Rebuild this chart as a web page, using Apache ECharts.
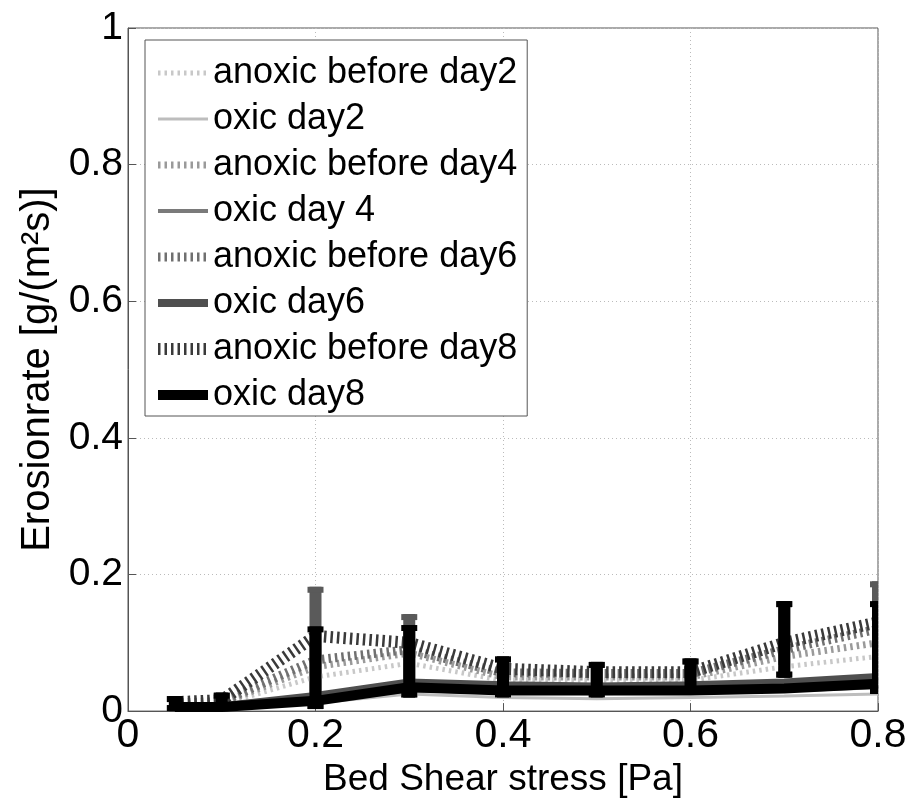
<!DOCTYPE html>
<html>
<head>
<meta charset="utf-8">
<script src="https://cdn.jsdelivr.net/npm/echarts@6/dist/echarts.min.js"></script>
<style>
  html, body { margin: 0; padding: 0; background: #fff; }
  #chart { width: 921px; height: 803px; }
</style>
</head>
<body>
<div id="chart"></div>
<script>
// bed shear stress [Pa]
var stress = [0.05, 0.1, 0.2, 0.3, 0.4, 0.5, 0.6, 0.7, 0.8];

// erosion rate per run [g/(m2 s)]
var anoxicDay2 = [0.008, 0.01, 0.05, 0.07, 0.045, 0.045, 0.045, 0.065, 0.08];
var oxicDay2   = [0.004, 0.004, 0.012, 0.025, 0.02, 0.018, 0.02, 0.022, 0.025];
var anoxicDay4 = [0.01, 0.012, 0.065, 0.085, 0.05, 0.05, 0.05, 0.08, 0.1];
var oxicDay4   = [0.005, 0.005, 0.015, 0.03, 0.028, 0.026, 0.028, 0.03, 0.035];
var anoxicDay6 = [0.012, 0.014, 0.075, 0.09, 0.056, 0.055, 0.055, 0.09, 0.12];
var oxicDay6   = [0.006, 0.007, 0.022, 0.042, 0.038, 0.036, 0.038, 0.042, 0.05];
var anoxicDay8 = [0.013, 0.016, 0.11, 0.1, 0.062, 0.057, 0.057, 0.1, 0.13];
var oxicDay8   = [0.006, 0.006, 0.015, 0.035, 0.03, 0.03, 0.03, 0.033, 0.04];

// error bars (low / high)
var errLow      = [0, 0, 0.003, 0.02, 0.02, 0.02, 0.025, 0.049, 0.025];
var errHighDark = [0.022, 0.027, 0.124, 0.126, 0.08, 0.072, 0.077, 0.161, 0.161];
var errHighGray = [0.022, 0.027, 0.182, 0.142, 0.08, 0.072, 0.077, 0.161, 0.19];

var font = 'Liberation Sans, Arial, sans-serif';

function pairs(ys) {
  var out = [];
  for (var i = 0; i < stress.length; i++) out.push([stress[i], ys[i]]);
  return out;
}

function lineSeries(name, ys, color, width, dashed) {
  return {
    name: name,
    type: 'line',
    data: pairs(ys),
    symbol: 'none',
    lineStyle: {
      color: color,
      width: width,
      type: dashed ? [2.5, 4] : 'solid',
      cap: 'butt'
    },
    itemStyle: { color: color },
    animation: false
  };
}

function errSeries(highs, color, z) {
  var d = [];
  for (var i = 0; i < stress.length; i++) d.push([stress[i], errLow[i], highs[i]]);
  return {
    type: 'custom',
    z: z,
    data: d,
    animation: false,
    renderItem: function (params, api) {
      var lo = api.coord([api.value(0), api.value(1)]);
      var hi = api.coord([api.value(0), api.value(2)]);
      var cs = params.coordSys;
      var clip = { x: cs.x, y: cs.y, width: cs.width, height: cs.height };
      var rects = [
        { x: lo[0] - 6, y: hi[1], width: 12, height: lo[1] - hi[1] },
        { x: lo[0] - 8, y: hi[1], width: 16, height: 6 },
        { x: lo[0] - 8, y: lo[1] - 6, width: 16, height: 6 }
      ];
      var children = [];
      rects.forEach(function (r) {
        var c = echarts.graphic.clipRectByRect(r, clip);
        if (c) children.push({ type: 'rect', shape: c, style: { fill: color } });
      });
      return { type: 'group', children: children };
    }
  };
}

var names = ['anoxic before day2', 'oxic day2', 'anoxic before day4', 'oxic day 4',
             'anoxic before day6', 'oxic day6', 'anoxic before day8', 'oxic day8'];

var chart = echarts.init(document.getElementById('chart'));
chart.setOption({
  backgroundColor: '#fff',
  animation: false,
  grid: {
    left: 128, right: 43, top: 28, bottom: 86,
    show: true, borderColor: '#555', borderWidth: 1, backgroundColor: '#fff'
  },
  legend: {
    data: names,
    orient: 'vertical',
    left: 145,
    top: 40,
    padding: [15, 10, 3, 7],
    itemWidth: 50,
    itemHeight: 30,
    itemGap: 10,
    backgroundColor: '#fff',
    borderColor: '#555',
    borderWidth: 1,
    borderRadius: 0,
    itemStyle: { opacity: 0 },
    lineStyle: { width: 'inherit' },
    textStyle: { fontFamily: font, fontSize: 36, color: '#000' }
  },
  xAxis: {
    type: 'value',
    min: 0, max: 0.8, interval: 0.2,
    name: 'Bed Shear stress [Pa]',
    nameLocation: 'middle',
    nameGap: 49,
    nameTextStyle: { fontFamily: font, fontSize: 37, color: '#000' },
    axisLine: { show: true, lineStyle: { color: '#555' } },
    axisTick: { show: true, inside: true, length: 8, lineStyle: { color: '#555' } },
    axisLabel: { fontFamily: font, fontSize: 41, color: '#000', margin: 4 },
    splitLine: { show: true, lineStyle: { color: '#bbb', type: [1, 3] } }
  },
  yAxis: {
    type: 'value',
    min: 0, max: 1, interval: 0.2,
    name: 'Erosionrate [g/(m²s)]',
    nameLocation: 'middle',
    nameGap: 58,
    nameTextStyle: { fontFamily: font, fontSize: 40, color: '#000' },
    axisLine: { show: true, lineStyle: { color: '#555' } },
    axisTick: { show: true, inside: true, length: 8, lineStyle: { color: '#555' } },
    axisLabel: { fontFamily: font, fontSize: 39, color: '#000', margin: 5 },
    splitLine: { show: true, lineStyle: { color: '#bbb', type: [1, 3] } }
  },
  series: [
    lineSeries(names[0], anoxicDay2, '#c8c8c8', 5, true),
    lineSeries(names[1], oxicDay2, '#bdbdbd', 3, false),
    lineSeries(names[2], anoxicDay4, '#9a9a9a', 7, true),
    lineSeries(names[3], oxicDay4, '#7a7a7a', 4, false),
    lineSeries(names[4], anoxicDay6, '#707070', 9, true),
    lineSeries(names[5], oxicDay6, '#4f4f4f', 8, false),
    lineSeries(names[6], anoxicDay8, '#3a3a3a', 12, true),
    lineSeries(names[7], oxicDay8, '#000000', 10, false),
    errSeries(errHighGray, '#5a5a5a', 3),
    errSeries(errHighDark, '#000000', 4)
  ]
});
</script>
</body>
</html>
